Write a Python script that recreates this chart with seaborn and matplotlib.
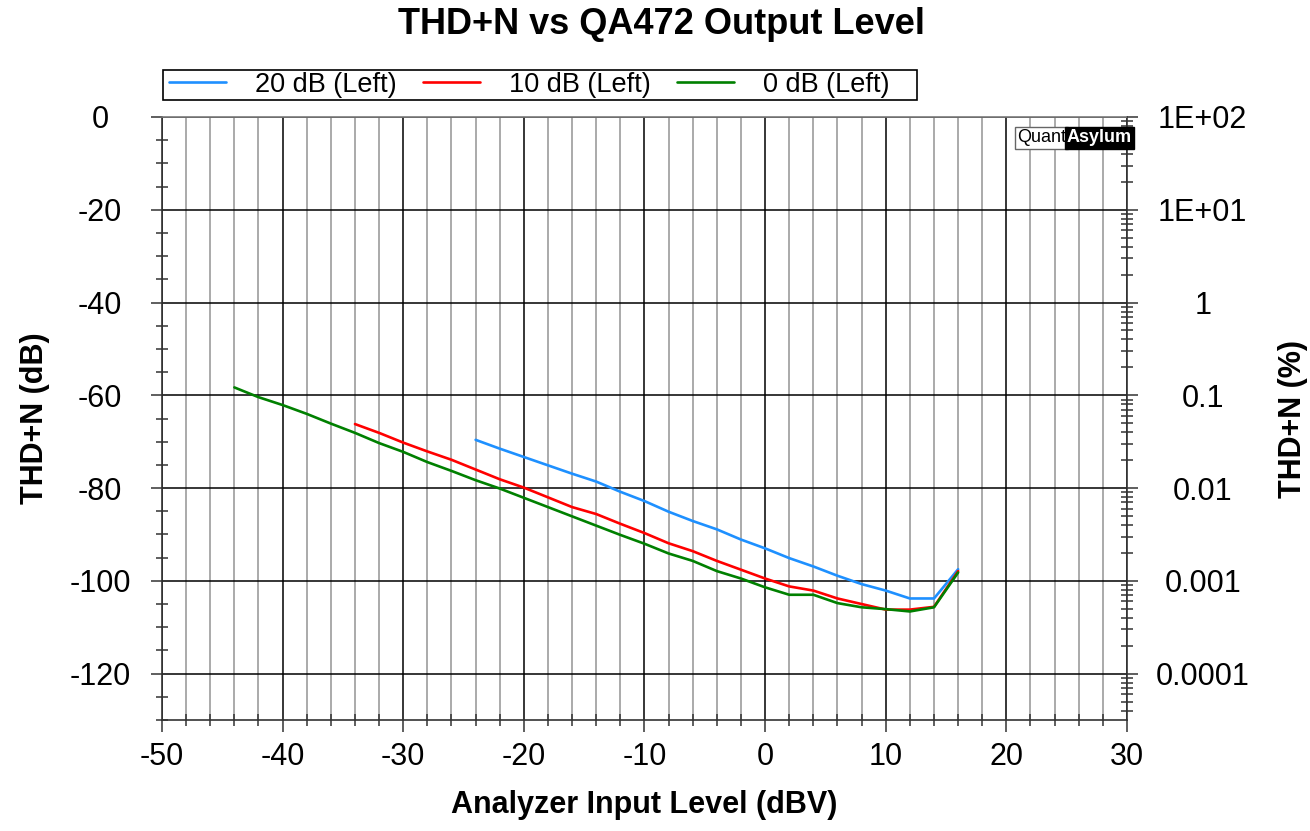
import numpy as np
import pandas as pd
import matplotlib
matplotlib.use("Agg")
import matplotlib.pyplot as plt
from matplotlib.ticker import MultipleLocator, FixedLocator, FixedFormatter, LogLocator, NullFormatter
from matplotlib.lines import Line2D
from matplotlib.patches import Rectangle
import seaborn as sns

# Data (x in dBV, THD+N in dB)
x_0db = list(range(-44, 17, 2))
y_0db = [-58.3, -60.4, -62.1, -64.0, -66.1, -68.1, -70.3, -72.2, -74.4, -76.3,
         -78.3, -80.1, -82.1, -84.1, -86.1, -88.1, -90.1, -92.0, -94.1, -95.7,
         -97.9, -99.5, -101.4, -103.0, -103.0, -104.8, -105.7, -106.1, -106.6,
         -105.7, -98.2]
x_10db = list(range(-34, 17, 2))
y_10db = [-66.2, -68.1, -70.2, -72.1, -73.9, -76.0, -78.1, -79.9, -82.0, -84.1,
          -85.6, -87.7, -89.7, -91.9, -93.6, -95.7, -97.6, -99.5, -101.2, -102.1,
          -103.8, -105.0, -106.2, -106.2, -105.6, -97.9]
x_20db = list(range(-24, 17, 2))
y_20db = [-69.6, -71.5, -73.3, -75.1, -76.9, -78.6, -80.8, -82.8, -85.1, -87.1,
          -88.9, -91.1, -93.0, -95.1, -96.9, -98.9, -100.7, -102.1, -103.8,
          -103.8, -97.5]

series_names = ["20 dB (Left)", "10 dB (Left)", "0 dB (Left)"]
series_colors = ["#1E90FF", "#FF0000", "#008000"]

right_ticks = [1e2, 1e1, 1, 0.1, 0.01, 0.001, 0.0001]
right_labels = ["1E+02", "1E+01", "1", "0.1", "0.01", "0.001", "0.0001"]

df = pd.concat([
    pd.DataFrame({"x": x_20db, "y": y_20db, "series": series_names[0]}),
    pd.DataFrame({"x": x_10db, "y": y_10db, "series": series_names[1]}),
    pd.DataFrame({"x": x_0db, "y": y_0db, "series": series_names[2]}),
])

sns.set_style("white")
plt.rcParams["font.family"] = ["Liberation Sans", "DejaVu Sans"]
plt.rcParams["axes.unicode_minus"] = False
plt.rcParams["text.color"] = "black"
plt.rcParams["axes.labelcolor"] = "black"
plt.rcParams["xtick.labelcolor"] = "black"
plt.rcParams["ytick.labelcolor"] = "black"

W, H = 1310, 831
fig = plt.figure(figsize=(W / 100, H / 100), dpi=100)
L, R, T, B = 162, 1127, 117, 720
ax = fig.add_axes([L / W, 1 - B / H, (R - L) / W, (B - T) / H])

sns.lineplot(data=df, x="x", y="y", hue="series", palette=dict(zip(series_names, series_colors)),
             linewidth=1.9, ax=ax, legend=False, sort=False, zorder=5)

ax.set_xlim(-50, 30)
ax.set_ylim(-130, 0)
ax.xaxis.set_major_locator(MultipleLocator(10))
ax.xaxis.set_minor_locator(MultipleLocator(2))
ax.yaxis.set_major_locator(MultipleLocator(20))
ax.yaxis.set_minor_locator(MultipleLocator(5))

ax.grid(which="major", axis="both", color="black", linewidth=1.1, zorder=1)
ax.grid(which="minor", axis="x", color="#aaaaaa", linewidth=1.4, zorder=0)
ax.set_axisbelow(True)

ax.tick_params(axis="x", which="major", direction="out", length=8.5, width=1.1, color="#333333",
               labelsize=22, pad=7, bottom=True, labelcolor="black")
ax.tick_params(axis="x", which="minor", direction="inout", length=9, width=1.1, color="#333333", bottom=True)
ax.tick_params(axis="y", which="major", direction="out", length=8, width=1.1, color="#333333",
               labelsize=22, pad=36.5, left=True, labelcolor="black")
ax.tick_params(axis="y", which="minor", direction="inout", length=8, width=1.1, color="#333333", left=True)
for lab in ax.get_yticklabels():
    lab.set_ha("center")

for s in ax.spines.values():
    s.set_color("#333333")
    s.set_linewidth(1.2)
ax.spines["top"].set_color("#7a7a7a")

ax.set_xlabel("Analyzer Input Level (dBV)", fontsize=22, fontweight="bold", color="black")
ax.xaxis.label.set_va("center")
ax.xaxis.set_label_coords(0.5, (B - 805) / (B - T))
ax.set_ylabel("THD+N (dB)", fontsize=22, fontweight="bold", color="black")
ax.yaxis.label.set_va("center")
ax.yaxis.set_label_coords((35 - L) / (R - L), 0.5)

# right axis in percent
ax2 = ax.twinx()
ax2.set_yscale("log")
ax2.set_ylim(100 * 10 ** (-130 / 20), 100)
ax2.yaxis.set_major_locator(FixedLocator(right_ticks))
ax2.yaxis.set_major_formatter(FixedFormatter(right_labels))
ax2.yaxis.set_minor_locator(LogLocator(base=10, subs=np.arange(2, 10)))
ax2.yaxis.set_minor_formatter(NullFormatter())
ax2.tick_params(axis="y", which="major", direction="out", length=8, width=1.1, color="#333333",
                labelsize=22, pad=46.5, right=True, labelcolor="black")
ax2.tick_params(axis="y", which="minor", direction="inout", length=8, width=1.1, color="#333333", right=True)
for lab in ax2.get_yticklabels():
    lab.set_ha("center")
for s in ax2.spines.values():
    s.set_visible(False)
ax2.set_ylabel("THD+N (%)", fontsize=22, fontweight="bold", color="black")
ax2.yaxis.label.set_va("center")
ax2.yaxis.set_label_coords((1293 - L) / (R - L), 0.5)
ax2.grid(False)

fig.text(0.505, 1 - 24 / H, "THD+N vs QA472 Output Level", fontsize=26, fontweight="bold",
         ha="center", va="center", color="black")

# legend (entries from matplotlib, frame drawn separately to match the wide box)
handles = [Line2D([], [], color=c, linewidth=1.9) for c in series_colors]
leg = fig.legend(handles, series_names, loc="lower left", bbox_to_anchor=(166 / W, 1 - 101 / H),
                 ncol=3, fontsize=19.5, frameon=False, borderpad=0.12,
                 handlelength=2.1, handletextpad=1.05, columnspacing=1.0, borderaxespad=0)
for t in leg.get_texts():
    t.set_color("black")
fig.patches.append(Rectangle((163 / W, 1 - 100 / H), (917 - 163) / W, 30 / H, transform=fig.transFigure,
                             facecolor="none", edgecolor="black", linewidth=1.2))

# logo
fig.text(1066 / W, 1 - 138 / H, "Quant", fontsize=13, ha="right", va="center", color="black",
         bbox=dict(boxstyle="square,pad=0.12", facecolor="white", edgecolor="#666666", linewidth=1))
fig.text(1067 / W, 1 - 138 / H, "Asylum", fontsize=13, fontweight="bold", ha="left", va="center",
         color="white", bbox=dict(boxstyle="square,pad=0.12", facecolor="black", edgecolor="black"))

fig.savefig("out.png", dpi=100)
plt.close()
